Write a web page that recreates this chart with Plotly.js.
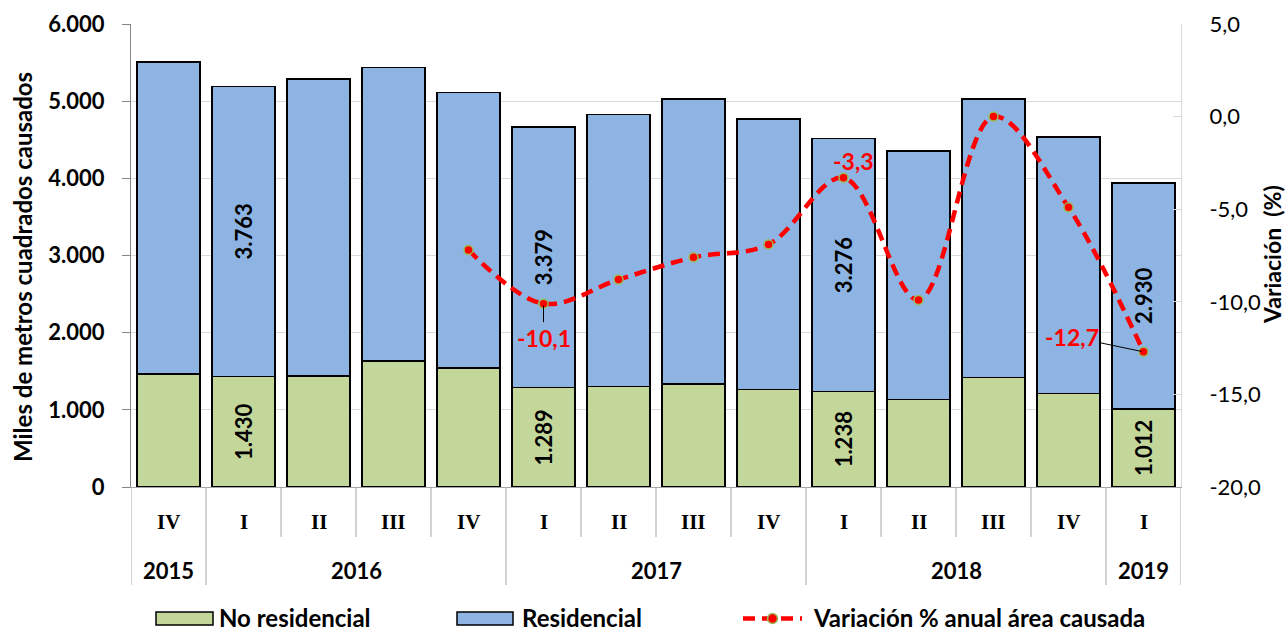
<!DOCTYPE html>
<html><head><meta charset="utf-8">
<script src="https://cdn.plot.ly/plotly-3.0.1.min.js"></script>
<style>html,body{margin:0;padding:0;background:#fff}</style>
</head><body><div id="chart" style="width:1288px;height:632px"></div>
<script>
const quarters = ["IV","I","II","III","IV","I","II","III","IV","I","II","III","IV","I"];
const years = ["2015","2016","2016","2016","2016","2017","2017","2017","2017","2018","2018","2018","2018","2019"];
const noResidencial = [1464,1430,1440,1633,1542,1289,1305,1335,1266,1238,1131,1416,1209,1012];
const residencial = [4043,3763,3847,3801,3568,3379,3520,3693,3503,3276,3223,3612,3326,2930];
const variacion = [null,null,null,null,-7.2,-10.1,-8.8,-7.6,-6.9,-3.3,-9.9,0.0,-4.9,-12.7];
const labeledBars = [1,5,9,13];
const labeledPoints = [5,9,13];
const leftTickVals = [0,1000,2000,3000,4000,5000,6000];
const leftTickText = ["0","1.000","2.000","3.000","4.000","5.000","6.000"];
const rightTickVals = [-20,-15,-10,-5,0,5];
const rightTickText = ["-20,0","-15,0","-10,0","-5,0","0,0","5,0"];
const seriesNames = ["No residencial","Residencial","Variación % anual área causada"];
const seriesColors = ["#C4D79B","#8DB4E2","#FF0000"];
const leftTitle = "Miles de metros cuadrados causados";
const rightTitle = "Variación  (%)";

const cats = quarters.map((q,i)=>years[i]+" "+q);
function fmtThousands(v){const s=String(Math.round(v));return s.length>3? s.slice(0,s.length-3)+"."+s.slice(-3):s;}
function fmtDec(v){return v.toFixed(1).replace(".",",");}
const noResText = noResidencial.map((v,i)=>labeledBars.includes(i)?fmtThousands(v):"");
const resText = residencial.map((v,i)=>labeledBars.includes(i)?fmtThousands(v):"");

const PLOT_TOP=24, PLOT_BOTTOM=487, PH=PLOT_BOTTOM-PLOT_TOP;
const PLOT_LEFT=131, PLOT_RIGHT=1181, PW=PLOT_RIGHT-PLOT_LEFT;
const py = yPix => (PLOT_BOTTOM - yPix)/PH;
const px = xPix => (xPix - PLOT_LEFT)/PW;
const sans = "Lato, 'Open Sans', sans-serif";
const serif = "'Liberation Serif', 'DejaVu Serif', serif";

const barLabelFont = {family: sans, size: 22, color: "#000", weight: 700};
const lineStyle = {color:seriesColors[2], width:4.5, dash:"12px,7px"};
const markerStyle = {color:seriesColors[2], size:9, line:{color:"#9BBB59", width:1.5}};

const traces = [
  {type:"bar", name:seriesNames[0], x:cats, y:noResidencial, text:noResText,
   textposition:"inside", insidetextanchor:"middle", textangle:-90, constraintext:"none",
   textfont:barLabelFont, marker:{color:seriesColors[0], line:{color:"#000", width:1.5}}, hoverinfo:"skip"},
  {type:"bar", name:seriesNames[1], x:cats, y:residencial, text:resText,
   textposition:"inside", insidetextanchor:"middle", textangle:-90, constraintext:"none",
   textfont:barLabelFont, marker:{color:seriesColors[1], line:{color:"#000", width:1.5}}, hoverinfo:"skip"},
  {type:"scatter", mode:"lines+markers", name:seriesNames[2], x:cats, y:variacion, yaxis:"y2",
   line:Object.assign({shape:"spline", smoothing:1}, lineStyle),
   marker:markerStyle, hoverinfo:"skip"}
];

const shapes = [];
const annotations = [];
const yearStarts = [];
years.forEach((y,i)=>{ if(i===0 || years[i-1]!==y) yearStarts.push(i); });
quarters.forEach((q,i)=>{
  annotations.push({xref:"x", yref:"paper", x:i, y:py(522), text:q, showarrow:false,
    font:{family:serif, size:21, color:"#000", weight:700}, yanchor:"middle"});
  if(i>0 && !yearStarts.includes(i)){
    shapes.push({type:"line", xref:"x", yref:"paper", x0:i-0.5, x1:i-0.5, y0:0, y1:py(537),
      line:{color:"#A6A6A6", width:1}});
  }
});
yearStarts.forEach((s,k)=>{
  const e = (k+1<yearStarts.length? yearStarts[k+1]: years.length) - 1;
  annotations.push({xref:"x", yref:"paper", x:(s+e)/2, y:py(570), text:years[s], showarrow:false,
    font:{family:sans, size:22, color:"#000", weight:700}, yanchor:"middle"});
  shapes.push({type:"line", xref:"x", yref:"paper", x0:s-0.5, x1:s-0.5, y0:0, y1:py(585),
    line:{color:"#A6A6A6", width:1}});
});
shapes.push({type:"line", xref:"x", yref:"paper", x0:years.length-0.5, x1:years.length-0.5, y0:0, y1:py(585),
  line:{color:"#A6A6A6", width:1}});

// axis titles
annotations.push({xref:"paper", yref:"paper", x:px(22), y:py(267), text:leftTitle, textangle:-90, showarrow:false,
  xanchor:"center", yanchor:"middle", borderpad:0, font:{family:sans, size:24, color:"#000", weight:700}});
annotations.push({xref:"paper", yref:"paper", x:px(1272), y:py(255), text:rightTitle, textangle:-90, showarrow:false,
  xanchor:"center", yanchor:"middle", borderpad:0, font:{family:sans, size:23, color:"#000", weight:700}});

// labels on the variation line
const pointLabelFont = {family:sans, size:23, color:"#FF0000", weight:700};
const labelOffsets = {5:{ax:0, ay:34, arrow:true}, 9:{ax:10, ay:-17, arrow:false}, 13:{ax:-72, ay:-15, arrow:true}};
labeledPoints.forEach(i=>{
  const o = labelOffsets[i];
  if(o.arrow){
    annotations.push({xref:"x", yref:"y2", x:cats[i], y:variacion[i], text:fmtDec(variacion[i]),
      showarrow:true, arrowhead:0, arrowwidth:1, arrowcolor:"#000", ax:o.ax, ay:o.ay, standoff:2,
      font:pointLabelFont});
  } else {
    annotations.push({xref:"x", yref:"y2", x:cats[i], y:variacion[i], text:fmtDec(variacion[i]),
      showarrow:false, xshift:o.ax, yshift:-o.ay, font:pointLabelFont});
  }
});

// legend (drawn as swatches + text, Excel style)
const legendFont = {family:sans, size:24, color:"#000", weight:700};
const LEG_Y = 618.5;
const legendItems = [
  {kind:"box", x0:156, x1:213, tx:218},
  {kind:"box", x0:457, x1:513, tx:521},
  {kind:"line", x0:743, x1:802, tx:812}
];
legendItems.forEach((it,k)=>{
  if(it.kind==="box"){
    shapes.push({type:"rect", xref:"paper", yref:"paper", x0:px(it.x0), x1:px(it.x1), y0:py(LEG_Y-6.5), y1:py(LEG_Y+6.5),
      fillcolor:seriesColors[k], line:{color:"#000", width:1.5}});
  } else {
    shapes.push({type:"line", xref:"paper", yref:"paper", x0:px(it.x0), x1:px(it.x1), y0:py(LEG_Y), y1:py(LEG_Y),
      line:lineStyle});
    const cx=(it.x0+it.x1)/2, r=5;
    shapes.push({type:"circle", xref:"paper", yref:"paper", x0:px(cx-r), x1:px(cx+r), y0:py(LEG_Y-r), y1:py(LEG_Y+r),
      fillcolor:seriesColors[2], line:{color:"#9BBB59", width:1.5}});
  }
  annotations.push({xref:"paper", yref:"paper", x:px(it.tx), y:py(LEG_Y-1.5), xanchor:"left", yanchor:"middle",
    text:seriesNames[k], showarrow:false, font:legendFont, borderpad:0});
});

const layout = {
  width:1288, height:632,
  margin:{l:131, r:107, t:24, b:145, autoexpand:false},
  paper_bgcolor:"#fff", plot_bgcolor:"#fff",
  barmode:"stack", bargap:0.16,
  showlegend:false,
  xaxis:{type:"category", categoryorder:"array", categoryarray:cats, showticklabels:false, ticks:"",
    showline:true, linecolor:"#A6A6A6", linewidth:1, showgrid:false, fixedrange:true, range:[-0.5, cats.length-0.5]},
  yaxis:{range:[0,6000], tickvals:leftTickVals, ticktext:leftTickText, showgrid:true, gridcolor:"#D9D9D9", gridwidth:1,
    showline:true, linecolor:"#868686", ticks:"outside", ticklen:8, tickcolor:"#868686", ticklabelstandoff:13,
    tickfont:{family:sans, size:22, color:"#000", weight:700}, zeroline:false},
  yaxis2:{overlaying:"y", side:"right", range:[-20,5], tickvals:rightTickVals, ticktext:rightTickText, showgrid:false,
    showline:true, linecolor:"#D9D9D9", ticks:"inside", ticklen:8, tickcolor:"#D9D9D9", ticklabelstandoff:23,
    tickfont:{family:sans, size:22, color:"#000"}, zeroline:false},
  shapes:shapes, annotations:annotations
};
Plotly.newPlot("chart", traces, layout, {displayModeBar:false, staticPlot:true});
</script></body></html>
